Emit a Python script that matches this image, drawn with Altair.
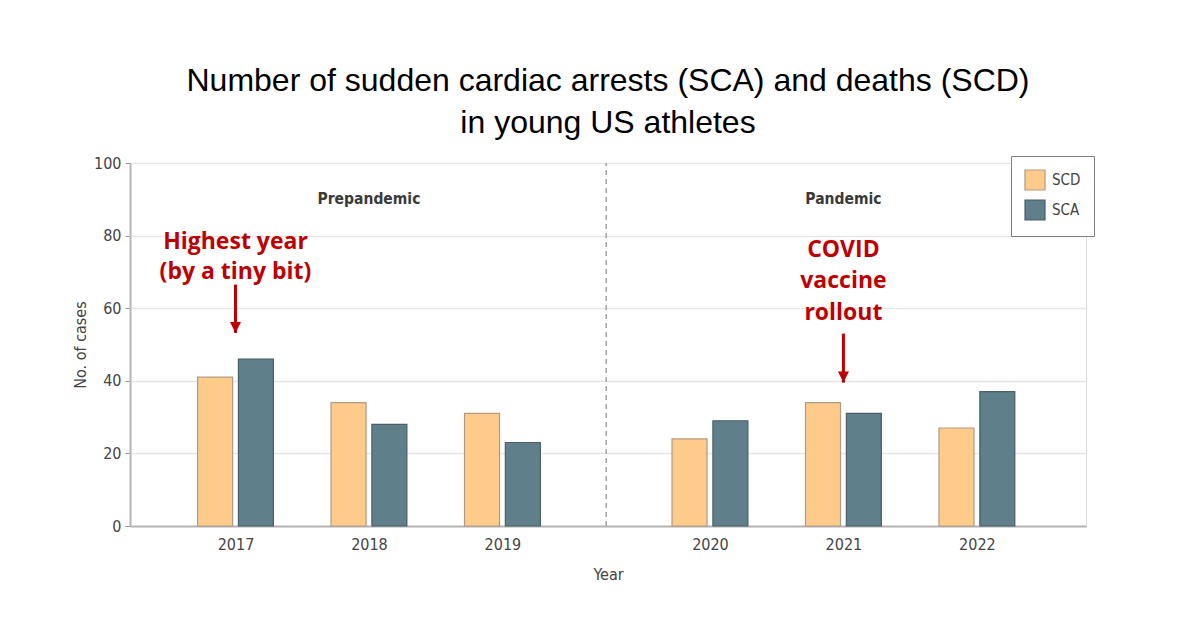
import altair as alt
import pandas as pd

# ---- data ----
years = [2017, 2018, 2019, 2020, 2021, 2022]
scd = [41, 34, 31, 24, 34, 27]
sca = [46, 28, 23, 29, 31, 37]
series = ["SCD", "SCA"]
colors = ["#FECB8B", "#5F7F8B"]
strokes = ["#B09B80", "#4A5F67"]

GAP = 0.555          # extra space between 2019 and 2020 (pandemic split)
OFF = 0.153          # half distance between the two bars of a year

def xpos(y):
    return y + (GAP if y >= 2020 else 0)

rows = []
for y, a, b in zip(years, scd, sca):
    rows.append({"year": y, "series": "SCD", "value": a})
    rows.append({"year": y, "series": "SCA", "value": b})
bars_df = pd.DataFrame(rows)

xdom = [xpos(2017) - 0.753, xpos(2022) + 0.78]
tick_vals = [xpos(y) for y in years]
xscale = alt.Scale(domain=xdom, nice=False, zero=False)
yscale = alt.Scale(domain=[0, 100], nice=False)

AXFONT = "Liberation Sans Narrow, DejaVu Sans Condensed, sans-serif"

bars = alt.Chart(bars_df).transform_calculate(
    pos=f"datum.year + (datum.year >= 2020 ? {GAP} : 0) + (datum.series == 'SCD' ? -{OFF} : {OFF})"
).mark_bar(size=35, strokeWidth=1.2).encode(
    x=alt.X("pos:Q", scale=xscale,
            axis=alt.Axis(values=tick_vals, labelExpr="format(floor(datum.value), 'd')",
                          ticks=False, grid=False, title="Year", labelPadding=10,
                          titlePadding=14, domainColor="#B5B5B5", domainWidth=2,
                          labelFont=AXFONT, labelFontSize=16, labelColor="#444",
                          titleFont=AXFONT, titleFontSize=16, titleColor="#444",
                          titleFontWeight="normal")),
    y=alt.Y("value:Q", scale=yscale,
            axis=alt.Axis(values=[0, 20, 40, 60, 80, 100], title="No. of cases",
                          grid=True, gridColor="#E6E6E6", gridWidth=1.5,
                          domainColor="#B5B5B5", domainWidth=2, tickColor="#999",
                          tickSize=5, labelPadding=4, labelFont=AXFONT,
                          labelFontSize=16, labelColor="#444", titleFont=AXFONT,
                          titleFontSize=16, titleColor="#444", titleFontWeight="normal",
                          titlePadding=5)),
    fill=alt.Fill("series:N", scale=alt.Scale(domain=series, range=colors),
                  legend=alt.Legend(title=None, orient="none", legendX=881, legendY=-7,
                                    padding=13, strokeColor="#808080", fillColor="white",
                                    symbolType="square", symbolSize=400, rowPadding=4,
                                    symbolStrokeWidth=1.2, labelFont=AXFONT,
                                    labelFontSize=15, labelColor="#444", labelOffset=6)),
    stroke=alt.Stroke("series:N", scale=alt.Scale(domain=series, range=strokes)),
)

# dashed separator between prepandemic and pandemic
sep_df = pd.DataFrame({"x": [(xpos(2019) + xpos(2020)) / 2], "y0": [0], "y1": [100]})
sep = alt.Chart(sep_df).mark_rule(color="#A0A0A0", strokeDash=[5, 4], strokeWidth=1.5).encode(
    x=alt.X("x:Q", scale=xscale), y=alt.Y("y0:Q", scale=yscale), y2="y1:Q")

# section labels
sec_df = pd.DataFrame({"x": [xpos(2018), xpos(2021)], "y": [90, 90],
                       "t": ["Prepandemic", "Pandemic"]})
sec = alt.Chart(sec_df).mark_text(font=AXFONT, fontSize=15.5, fontWeight="bold",
                                  color="#3A3A3A", baseline="middle").encode(
    x=alt.X("x:Q", scale=xscale), y=alt.Y("y:Q", scale=yscale), text="t:N")

# red annotations
ann_df = pd.DataFrame({
    "x": [xpos(2017), xpos(2017), xpos(2021), xpos(2021), xpos(2021)],
    "y": [78.3, 69.9, 76.1, 67.6, 58.8],
    "t": ["Highest year", "(by a tiny bit)", "COVID", "vaccine", "rollout"],
})
ann = alt.Chart(ann_df).mark_text(font="Open Sans", fontSize=23, fontWeight="bold",
                                  color="#C00000", baseline="middle").encode(
    x=alt.X("x:Q", scale=xscale), y=alt.Y("y:Q", scale=yscale), text="t:N")

arr_df = pd.DataFrame({"x": [xpos(2017), xpos(2021)], "top": [66.5, 53.0],
                       "tip": [53.2, 39.5]})
shaft = alt.Chart(arr_df).mark_rule(color="#C00000", strokeWidth=3).encode(
    x=alt.X("x:Q", scale=xscale), y=alt.Y("top:Q", scale=yscale), y2="tip:Q")
head = alt.Chart(arr_df).mark_point(shape="M-1,-2L1,-2L0,0Z", size=121, filled=True,
                                    color="#C00000", opacity=1).encode(
    x=alt.X("x:Q", scale=xscale), y=alt.Y("tip:Q", scale=yscale))

chart = alt.layer(bars, sep, sec, ann, shaft, head).properties(
    width=956, height=363,
    title=alt.Title(["Number of sudden cardiac arrests (SCA) and deaths (SCD)",
                     "in young US athletes"],
                    font="Liberation Sans", fontSize=32, fontWeight="normal",
                    color="#000", anchor="middle", lineHeight=42, offset=15),
    autosize="none",
    padding={"left": 130, "top": 163, "right": 114, "bottom": 92},
).configure_view(stroke=None).configure(background="white")

chart.save("out.html", embed_options={"renderer": "svg", "actions": False})
